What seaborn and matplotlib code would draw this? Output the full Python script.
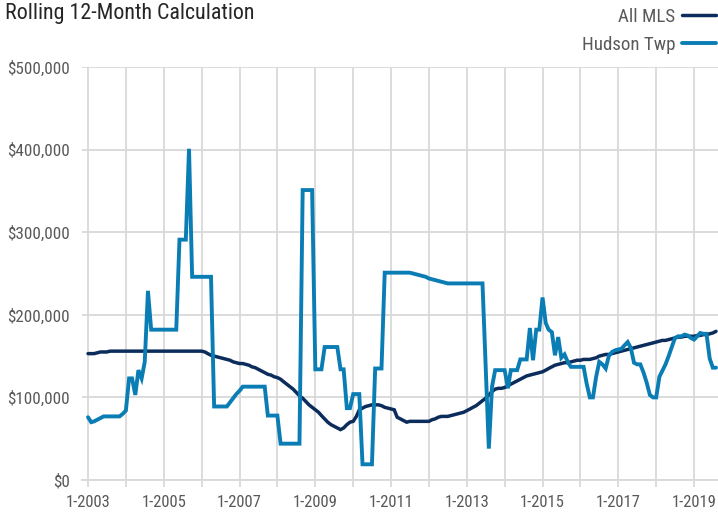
import matplotlib
matplotlib.use("Agg")
import matplotlib.pyplot as plt
from matplotlib.ticker import FuncFormatter, MultipleLocator
import matplotlib.dates as mdates
import seaborn as sns
import pandas as pd

# monthly rolling 12-month values, in $ thousands, Jan 2003 .. Aug 2019
all_mls_k = [
    153, 153, 153, 154, 155, 155, 155, 156, 156, 156, 156, 156,   # 2003
    156, 156, 156, 156, 156, 156, 156, 156, 156, 156, 156, 156,   # 2004
    156, 156, 156, 156, 156, 156, 156, 156, 156, 156, 156, 156,   # 2005
    156, 155, 153, 151, 150, 149, 148, 147, 146, 145, 143, 142,   # 2006
    141, 141, 140, 139, 137, 136, 134, 132, 130, 128, 127, 125,   # 2007
    124, 122, 119, 116, 113, 110, 106, 102, 99, 95, 91, 88,       # 2008
    85, 82, 78, 74, 70, 67, 65, 63, 61, 63, 67, 70,               # 2009
    71, 77, 85, 87, 89, 90, 91, 91, 91, 90, 88, 87,               # 2010
    86, 85, 76, 74, 72, 70, 71, 71, 71, 71, 71, 71,               # 2011
    71, 73, 74, 76, 77, 77, 77, 78, 79, 80, 81, 82,               # 2012
    84, 86, 88, 90, 93, 96, 99, 103, 107, 110, 111, 111,          # 2013
    112, 114, 116, 118, 120, 122, 124, 126, 127, 128, 129, 130,   # 2014
    131, 133, 135, 137, 139, 140, 141, 142, 142, 143, 144, 145,   # 2015
    145, 146, 146, 146, 147, 148, 150, 151, 152, 152, 153, 154,   # 2016
    155, 156, 157, 158, 159, 160, 161, 162, 163, 164, 165, 166,   # 2017
    167, 168, 169, 169, 170, 171, 172, 173, 173, 174, 174, 174,   # 2018
    174, 175, 175, 176, 176, 177, 178, 180,                       # 2019
]

hudson_k = [
    76, 70, 71, 73, 75, 77, 77, 77, 77, 77, 77, 80,               # 2003
    84, 123, 123, 103, 133, 123, 143, 229, 182, 182, 182, 182,    # 2004
    182, 182, 182, 182, 182, 291, 291, 291, 401, 246, 246, 246,   # 2005
    246, 246, 246, 246, 89, 89, 89, 89, 89, 94, 99, 104,          # 2006
    108, 113, 113, 113, 113, 113, 113, 113, 113, 78, 78, 78,      # 2007
    78, 44, 44, 44, 44, 44, 44, 44, 351, 351, 351, 351,           # 2008
    134, 134, 134, 161, 161, 161, 161, 161, 134, 134, 87, 87,     # 2009
    104, 104, 104, 19, 19, 19, 19, 135, 135, 135, 251, 251,       # 2010
    251, 251, 251, 251, 251, 251, 251, 250, 249, 248, 247, 246,   # 2011
    244, 243, 242, 241, 240, 239, 238, 238, 238, 238, 238, 238,   # 2012
    238, 238, 238, 238, 238, 238, 138, 38, 113, 133, 133, 133,    # 2013
    133, 111, 133, 133, 133, 146, 146, 146, 184, 145, 182, 182,   # 2014
    221, 190, 182, 179, 151, 173, 148, 152, 143, 137, 137, 137,   # 2015
    137, 137, 117, 100, 100, 125, 143, 140, 135, 150, 155, 157,   # 2016
    158, 159, 163, 167, 160, 142, 140, 140, 130, 118, 103, 100,   # 2017
    100, 125, 132, 140, 150, 161, 172, 174, 174, 176, 175, 172,   # 2018
    170, 174, 178, 177, 177, 147, 136, 136,                       # 2019
]

series_names = ["All MLS", "Hudson Twp"]
label_years = [2003, 2005, 2007, 2009, 2011, 2013, 2015, 2017, 2019]
colors = {"All MLS": "#0c2d5b", "Hudson Twp": "#0b7db5"}
widths = {"All MLS": 2.5, "Hudson Twp": 2.8}

months = pd.date_range("2003-01-01", periods=len(hudson_k), freq="MS")
df = pd.concat([
    pd.DataFrame({"month": months, "price": [v * 1000 for v in all_mls_k], "series": "All MLS"}),
    pd.DataFrame({"month": months, "price": [v * 1000 for v in hudson_k], "series": "Hudson Twp"}),
], ignore_index=True)

sns.set_theme(style="white")
plt.rcParams["font.family"] = ["Roboto Condensed", "Liberation Sans Narrow", "Roboto", "DejaVu Sans"]

grid_c = "#d9d9d9"
text_c = "#595959"

fig = plt.figure(figsize=(7.18, 5.15), dpi=100)
ax = fig.add_axes([82 / 718, 35 / 515, 636 / 718, 413 / 515])

sns.lineplot(data=df, x="month", y="price", hue="series", hue_order=series_names,
             palette=colors, ax=ax, legend=False, estimator=None)
for line, name in zip(ax.get_lines(), series_names):
    line.set_linewidth(widths[name])
    line.set_solid_joinstyle("miter")

ax.set_ylim(0, 500000)
ax.set_xlim(pd.Timestamp("2003-01-01") - pd.Timedelta(days=58),
            pd.Timestamp("2019-01-01") + pd.Timedelta(days=231))

ax.yaxis.set_major_locator(MultipleLocator(100000))
ax.yaxis.set_major_formatter(FuncFormatter(lambda v, p: f"${v:,.0f}"))
ax.set_xticks([pd.Timestamp(f"{y}-01-01") for y in label_years])
ax.set_xticklabels([f"1-{y}" for y in label_years])
ax.xaxis.set_minor_locator(mdates.YearLocator(1))

ax.grid(True, which="major", axis="y", color=grid_c, linewidth=1.3)
ax.grid(True, which="both", axis="x", color=grid_c, linewidth=1.3)
ax.set_axisbelow(True)

for s in ["top", "right", "left"]:
    ax.spines[s].set_visible(False)
ax.spines["bottom"].set_color(grid_c)
ax.spines["bottom"].set_linewidth(1.3)

ax.tick_params(axis="x", which="both", bottom=True, length=5, width=1.3, color=grid_c,
               labelsize=12, labelcolor=text_c, pad=5.5)
ax.tick_params(axis="y", left=False, length=0, labelsize=12.3, labelcolor=text_c, pad=9)
ax.set_xlabel("")
ax.set_ylabel("")

fig.text(5 / 718, 1 - 13 / 515, "Rolling 12-Month Calculation", fontsize=15.8,
         color="#262626", ha="left", va="center")

handles = [plt.Line2D([], [], color=colors[n], linewidth=widths[n]) for n in series_names]
fig.legend(handles, series_names, loc="upper right", bbox_to_anchor=(1.0, 0.988),
           markerfirst=False, frameon=False, fontsize=13.6, labelcolor=text_c,
           handlelength=1.8, handletextpad=0.35, labelspacing=0.5,
           borderpad=0.05, borderaxespad=0.05)

fig.savefig("out.png", dpi=100)
plt.close(fig)
